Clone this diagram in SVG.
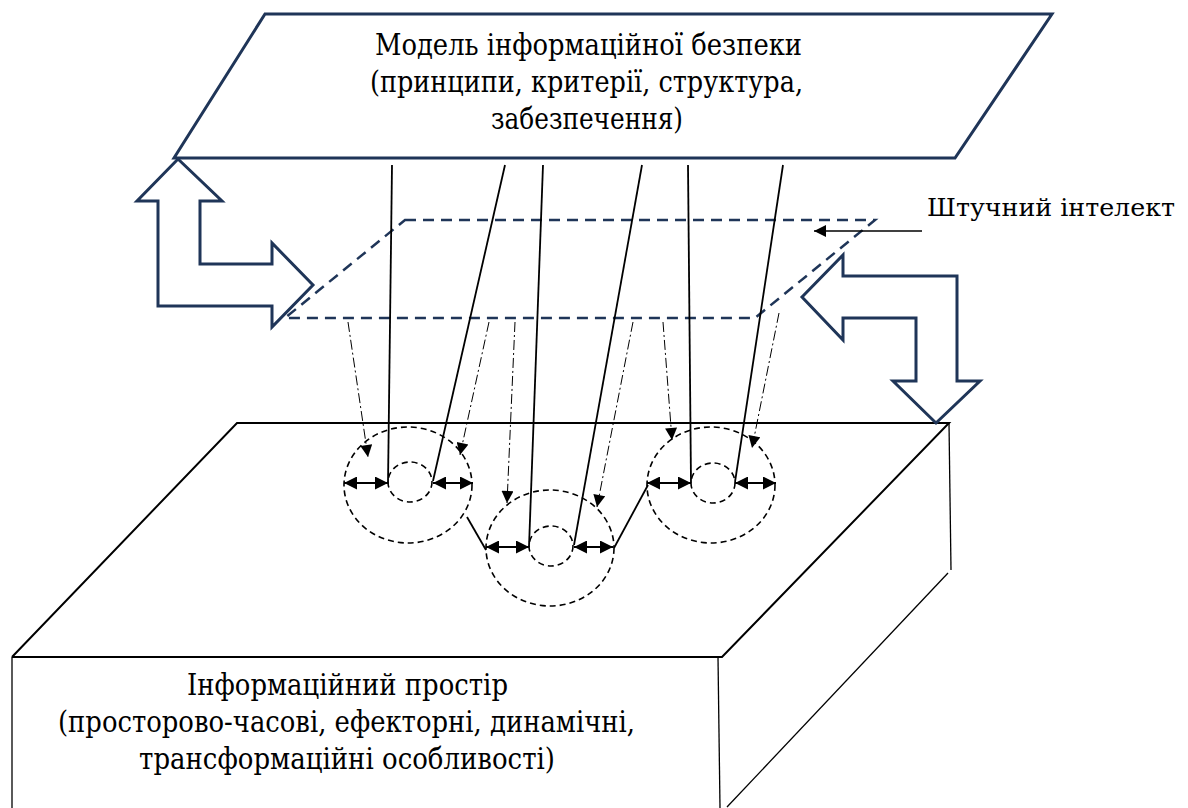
<svg xmlns="http://www.w3.org/2000/svg" width="1188" height="808" viewBox="0 0 1188 808">
<defs>
<style>
.navy{fill:#fff;stroke:#1f3558;stroke-width:3;stroke-linejoin:miter}
.plane{fill:none;stroke:#1f3558;stroke-width:2.5;stroke-dasharray:11,7}
.box{fill:none;stroke:#000;stroke-width:2}
.thin{fill:none;stroke:#000;stroke-width:1.3}
.solid{fill:none;stroke:#000;stroke-width:1.8}
.dd{fill:none;stroke:#000;stroke-width:1;stroke-dasharray:10,3,2,3}
.circ{fill:none;stroke:#000;stroke-width:1.6;stroke-dasharray:6,4}
.dbl{fill:none;stroke:#000;stroke-width:2;marker-start:url(#ah);marker-end:url(#ah)}
.t{font-size:30px;fill:#000}
</style>
<marker id="ah" viewBox="0 0 10 10" refX="10" refY="5" markerWidth="15" markerHeight="13" markerUnits="userSpaceOnUse" orient="auto-start-reverse">
<path d="M0,0 L10,5 L0,10 z" fill="#000"/>
</marker>
<marker id="ah2" viewBox="0 0 10 10" refX="10" refY="5" markerWidth="15" markerHeight="12" markerUnits="userSpaceOnUse" orient="auto">
<path d="M0,0 L10,5 L0,10 z" fill="#000"/>
</marker>
</defs>

<g id="box">
<polyline class="box" points="12,657 237,423 949,423 722,657 12,657"/>
<line class="thin" x1="12" y1="657" x2="12" y2="808"/>
<line class="thin" x1="718" y1="657" x2="720" y2="808"/>
<line class="thin" x1="949" y1="423" x2="951" y2="570"/>
<line class="thin" x1="948" y1="573" x2="727" y2="807"/>
<text class="t" font-family="DejaVu Serif, serif" x="187" y="695" textLength="321" lengthAdjust="spacingAndGlyphs">Інформаційний простір</text>
<text class="t" font-family="DejaVu Serif, serif" x="58" y="732" textLength="577" lengthAdjust="spacingAndGlyphs">(просторово-часові, ефекторні, динамічні,</text>
<text class="t" font-family="DejaVu Serif, serif" x="139" y="769" textLength="416" lengthAdjust="spacingAndGlyphs">трансформаційні особливості)</text>
</g>

<g id="model">
<polygon class="navy" points="265,14 1052,14 955,158 174,158"/>
<text class="t" font-family="DejaVu Serif, serif" x="375" y="55" textLength="427" lengthAdjust="spacingAndGlyphs">Модель інформаційної безпеки</text>
<text class="t" font-family="DejaVu Serif, serif" x="370" y="92" textLength="433" lengthAdjust="spacingAndGlyphs">(принципи, критерії, структура,</text>
<text class="t" font-family="DejaVu Serif, serif" x="491" y="129" textLength="192" lengthAdjust="spacingAndGlyphs">забезпечення)</text>
</g>

<g id="ai-plane">
<polygon class="plane" points="405,220 875,220 755,318 285,318"/>
</g>

<g id="ai-label">
<text font-family="DejaVu Serif, serif" font-size="25" fill="#000" x="927" y="216" textLength="248" lengthAdjust="spacingAndGlyphs">Штучний інтелект</text>
</g>

<g id="left-arrow">
<polygon class="navy" points="178,159 222,201 200,201 200,264 272,264 272,243 313,285 272,327 272,306 158,306 158,201 137,201"/>
</g>

<g id="right-arrow">
<polygon class="navy" points="802,297 843,255 843,276 957,276 957,381 980,381 936,423 893,381 916,381 916,318 843,318 843,340"/>
</g>

<g id="circle-left">
<ellipse class="circ" cx="408" cy="485" rx="64" ry="58"/>
<ellipse class="circ" cx="410" cy="482" rx="22" ry="20"/>
</g>
<g id="circle-middle">
<ellipse class="circ" cx="550" cy="548" rx="64" ry="58"/>
<ellipse class="circ" cx="551" cy="546" rx="22" ry="20"/>
</g>
<g id="circle-right">
<ellipse class="circ" cx="711" cy="485" rx="64" ry="58"/>
<ellipse class="circ" cx="713" cy="483" rx="22" ry="20"/>
</g>

<g id="connectors">
<line class="solid" x1="392" y1="165" x2="388" y2="484"/>
<line class="solid" x1="505" y1="165" x2="433" y2="481"/>
<line class="solid" x1="543" y1="165" x2="529" y2="547"/>
<line class="solid" x1="642" y1="165" x2="574" y2="545"/>
<line class="solid" x1="688" y1="165" x2="691" y2="483"/>
<line class="solid" x1="783" y1="165" x2="735" y2="482"/>
<line class="solid" x1="467" y1="517" x2="486" y2="550"/>
<line class="solid" x1="614" y1="548" x2="648" y2="485"/>

<line class="dbl" x1="344" y1="483" x2="388" y2="483"/>
<line class="dbl" x1="433" y1="483" x2="473" y2="483"/>
<line class="dbl" x1="486" y1="547" x2="529" y2="547"/>
<line class="dbl" x1="574" y1="547" x2="613" y2="547"/>
<line class="dbl" x1="647" y1="483" x2="691" y2="483"/>
<line class="dbl" x1="735" y1="483" x2="776" y2="483"/>

<line class="dd" marker-end="url(#ah2)" x1="348" y1="322" x2="368" y2="457"/>
<line class="dd" marker-end="url(#ah2)" x1="489" y1="322" x2="460" y2="455"/>
<line class="dd" marker-end="url(#ah2)" x1="515" y1="322" x2="507" y2="503"/>
<line class="dd" marker-end="url(#ah2)" x1="633" y1="322" x2="597" y2="507"/>
<line class="dd" marker-end="url(#ah2)" x1="663" y1="322" x2="672" y2="440"/>
<line class="dd" marker-end="url(#ah2)" x1="779" y1="313" x2="752" y2="448"/>

<line x1="922" y1="231" x2="814" y2="231" stroke="#000" stroke-width="1.5" marker-end="url(#ah2)"/>
</g>
</svg>
